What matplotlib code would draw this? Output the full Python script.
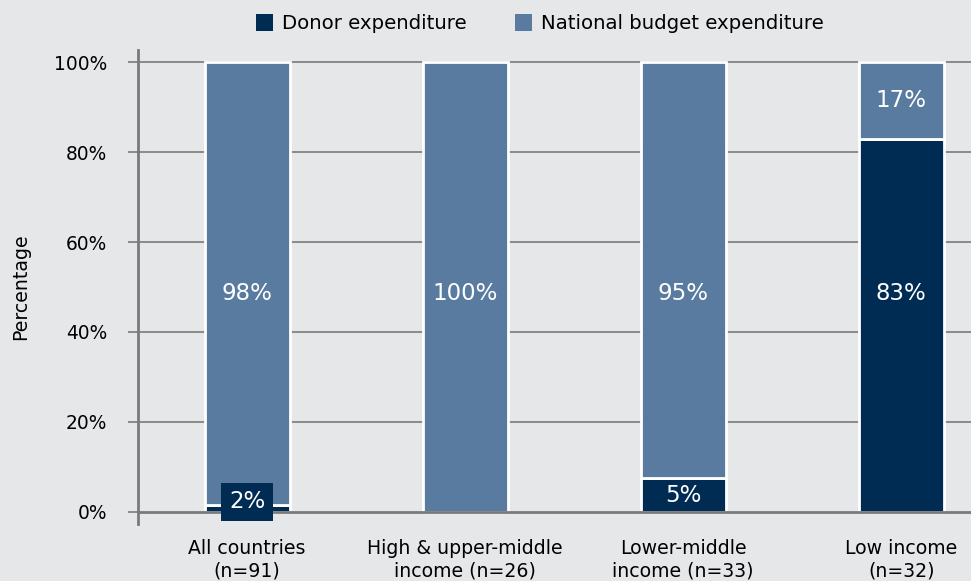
import numpy as np
import matplotlib.pyplot as plt
from matplotlib.patches import Patch

categories = ['All countries\n(n=91)', 'High & upper-middle\nincome (n=26)',
              'Lower-middle\nincome (n=33)', 'Low income\n(n=32)']
# segment heights as drawn in the picture
donor = [1.5, 0, 7.5, 83]
national = [98.5, 100, 92.5, 17]
# printed labels
donor_labels = ['2%', '', '5%', '83%']
national_labels = ['98%', '100%', '95%', '17%']
yticks = [0, 20, 40, 60, 80, 100]

navy = '#002c54'
steel = '#5a7ba0'
bg = '#e6e7e9'
grey = '#7a7a7a'

fig = plt.figure(figsize=(9.71, 5.81), dpi=100, facecolor=bg)
ax = fig.add_axes([138 / 971, 57 / 581, 1 - 138 / 971, 474 / 581])
ax.set_facecolor(bg)

x = np.arange(len(categories))
w = 0.39
ax.bar(x, donor, w, color=navy, edgecolor='white', linewidth=2, zorder=3)
ax.bar(x, national, w, bottom=donor, color=steel, edgecolor='white', linewidth=2,
       zorder=3)

# gridlines (the 0 line is the x axis)
for yv in yticks:
    ax.axhline(yv, color=grey, lw=2 if yv == 0 else 1.2, zorder=4 if yv == 0 else 1)

# labels
for i in range(len(categories)):
    d, n = donor[i], national[i]
    if d >= 50:
        ax.text(x[i], 48.5, donor_labels[i], ha='center', va='center', color='white',
                fontsize=16.5, zorder=5)
        ax.text(x[i], d + n / 2, national_labels[i], ha='center', va='center',
                color='white', fontsize=16.5, zorder=5)
    else:
        ax.text(x[i], 48.5, national_labels[i], ha='center', va='center',
                color='white', fontsize=16.5, zorder=5)
        if d > 4:
            ax.text(x[i], 3.6, donor_labels[i], ha='center', va='center',
                    color='white', fontsize=16.5, zorder=6)
        elif d > 0:
            ax.text(x[i], 2.2, donor_labels[i], ha='center', va='center',
                    color='white', fontsize=16.5, zorder=6,
                    bbox=dict(boxstyle='square,pad=0.33', fc=navy, ec='none'))

ax.set_xlim(-0.5, 3.32)
ax.set_ylim(-2.7, 102.7)
ax.set_yticks(yticks)
ax.set_yticklabels([f'{v}%' for v in yticks])
ax.set_xticks(x)
ax.set_xticklabels(categories, fontsize=13.6)
ax.tick_params(axis='y', length=7.2, width=1.2, color=grey, pad=15, labelsize=13.4)
ax.tick_params(axis='x', length=0, pad=11)

for s in ['top', 'right', 'bottom']:
    ax.spines[s].set_visible(False)
ax.spines['left'].set_color(grey)
ax.spines['left'].set_linewidth(2)

ax.set_ylabel('Percentage', fontsize=13.6)
ax.yaxis.set_label_coords(-108 / 833, 0.5)

handles = [Patch(facecolor=navy, edgecolor='none', label='Donor expenditure'),
           Patch(facecolor=steel, edgecolor='none', label='National budget expenditure')]
fig.legend(handles=handles, loc='center', bbox_to_anchor=(0.556, 0.959), ncol=2,
           frameon=False, fontsize=14.2, handlelength=0.85, handleheight=0.9,
           handletextpad=0.45, columnspacing=2.5)

fig.savefig('out.png', dpi=100, facecolor=bg)
